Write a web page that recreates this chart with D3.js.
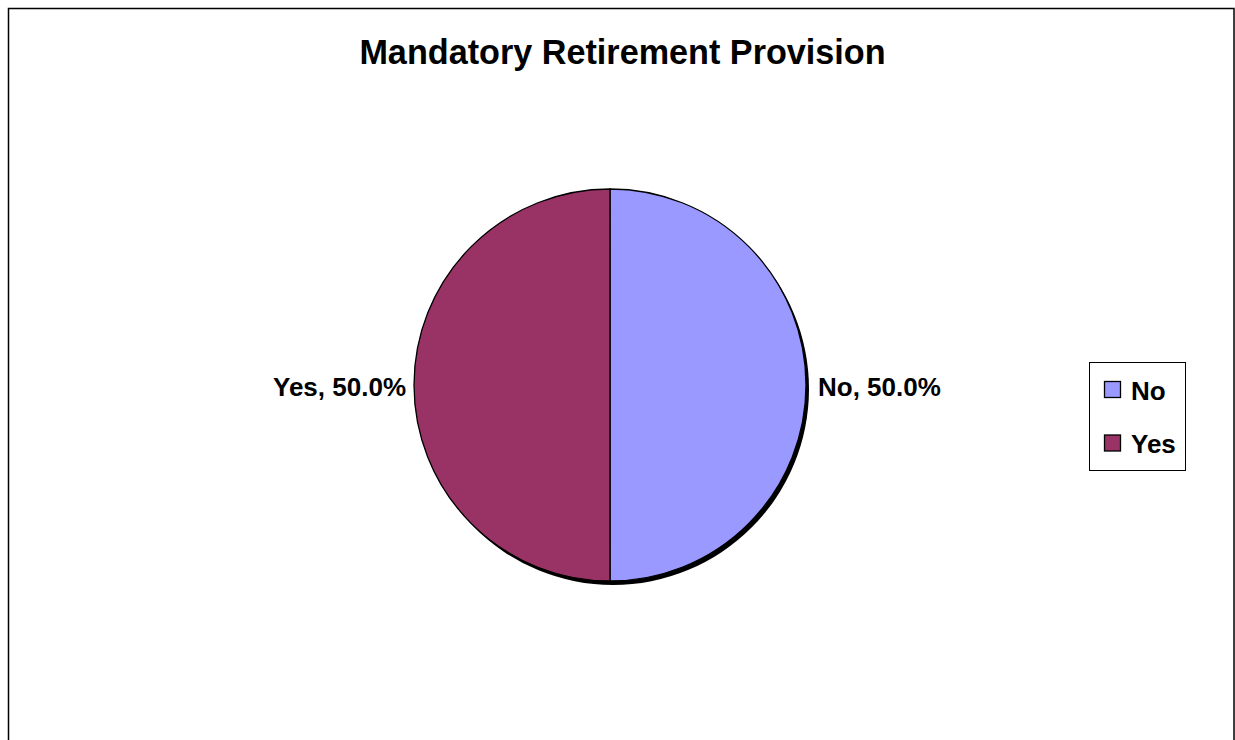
<!DOCTYPE html>
<html>
<head>
<meta charset="utf-8">
<script src="https://cdn.jsdelivr.net/npm/d3@7"></script>
<style>
  html, body { margin: 0; padding: 0; background: #fff; }
  svg { display: block; }
  text { font-family: "Liberation Sans", Arial, sans-serif; font-weight: bold; fill: #000; }
</style>
</head>
<body>
<svg id="chart" width="1235" height="740"></svg>
<script>
// Chart data
const title = "Mandatory Retirement Provision";
const categories = ["No", "Yes"];
const values = [50.0, 50.0];
const colors = ["#9999FF", "#993366"];

const svg = d3.select("#chart");

// Outer chart frame
svg.append("rect")
  .attr("x", 8.5).attr("y", 8.5)
  .attr("width", 1225.5).attr("height", 800)
  .attr("fill", "#fff")
  .attr("stroke", "#000")
  .attr("stroke-width", 1.5);

// Title
svg.append("text")
  .attr("x", 622.5).attr("y", 64)
  .attr("text-anchor", "middle")
  .attr("font-size", 34.2)
  .text(title);

// Pie geometry
const cx = 610, cy = 385, r = 196;
const total = d3.sum(values);
const data = categories.map((c, i) => ({ name: c, value: values[i], color: colors[i] }));

const pie = d3.pie().sort(null).value(d => d.value);
const arcs = pie(data);
const arc = d3.arc().innerRadius(0).outerRadius(r);
const labelArc = d3.arc().innerRadius(r + 10).outerRadius(r + 10);

const g = svg.append("g").attr("transform", `translate(${cx},${cy})`);

// Drop shadow behind the pie
g.append("circle")
  .attr("cx", 3).attr("cy", 4)
  .attr("r", r)
  .attr("fill", "#000");

g.selectAll("path.slice")
  .data(arcs)
  .join("path")
  .attr("class", "slice")
  .attr("d", arc)
  .attr("fill", d => d.data.color)
  .attr("stroke", "#000")
  .attr("stroke-width", 1.3)
  .attr("stroke-linejoin", "round");

// Slice labels: "Category, xx.x%"
const fmt = d3.format(".1%");
g.selectAll("text.lbl")
  .data(arcs)
  .join("text")
  .attr("class", "lbl")
  .attr("font-size", 26)
  .each(function(d) {
    const [x, y] = labelArc.centroid(d);
    const mid = (d.startAngle + d.endAngle) / 2;
    const right = mid < Math.PI;
    d3.select(this)
      .attr("x", x + 2)
      .attr("y", y + 11)
      .attr("text-anchor", right ? "start" : "end")
      .text(`${d.data.name}, ${fmt(d.data.value / total)}`);
  });

// Legend
const lg = svg.append("g");
lg.append("rect")
  .attr("x", 1089.5).attr("y", 362.5)
  .attr("width", 96).attr("height", 108)
  .attr("fill", "#fff")
  .attr("stroke", "#000")
  .attr("stroke-width", 1);

const legendY = d3.scalePoint().domain(categories).range([389.5, 443]);
const items = lg.selectAll("g.item")
  .data(data)
  .join("g")
  .attr("class", "item")
  .attr("transform", d => `translate(0,${legendY(d.name)})`);

items.append("rect")
  .attr("x", 1104.5).attr("y", -8)
  .attr("width", 16).attr("height", 16)
  .attr("fill", d => d.color)
  .attr("stroke", "#000")
  .attr("stroke-width", 1.3);

items.append("text")
  .attr("x", 1131).attr("y", 10)
  .attr("font-size", 26)
  .text(d => d.name);
</script>
</body>
</html>
